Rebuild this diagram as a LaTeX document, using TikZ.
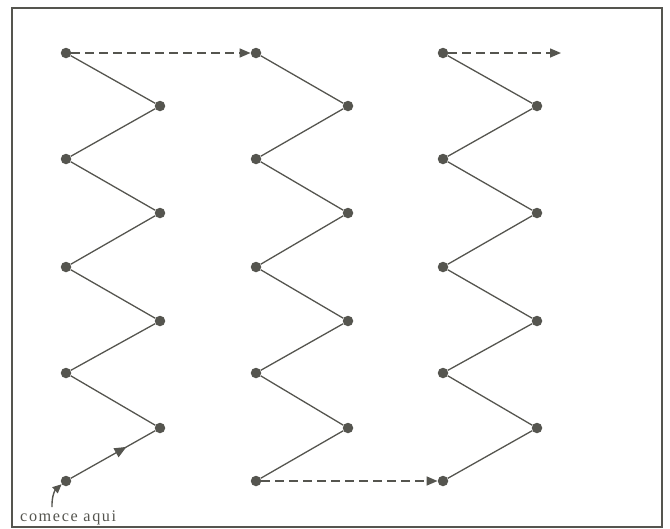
\documentclass[tikz,border=0pt]{standalone}
\usepackage{fontspec}
\setmainfont{Liberation Serif}
\newfontfamily\spaced[LetterSpace=10]{Liberation Serif}
\usetikzlibrary{arrows.meta,decorations.markings}
\definecolor{ink}{HTML}{55554F}
\begin{document}
\begin{tikzpicture}[x=1pt,y=-1pt,
  dot/.style={circle,fill=ink,inner sep=0pt,minimum size=10.5pt},
  zig/.style={draw=ink,line width=1.3pt},
  dasharrow/.style={draw=ink,line width=1.5pt,dash pattern=on 9pt off 5pt,-{Triangle[length=11pt,width=9pt]}},
  midarrow/.style={postaction={decorate},decoration={markings,mark=at position 0.66 with {\arrow{Triangle[length=12pt,width=10pt]}}}},
  lbl/.style={text=ink,font=\spaced\fontsize{16.2}{18}\selectfont,inner sep=0pt,anchor=base west}]
\useasboundingbox (0,0) rectangle (670,528);
\draw[ink,line width=2pt] (12,8) rectangle (662,527);
% columns
\foreach \c/\xl/\xr in {a/66/160,b/256/348,c/443/537}{
  \foreach \i/\y in {1/53,3/159,5/267,7/373,9/481}{
    \node[dot] (\c\i) at (\xl,\y) {};
  }
  \foreach \i/\y in {2/106,4/213,6/321,8/428}{
    \node[dot] (\c\i) at (\xr,\y) {};
  }
}
\foreach \c in {a,b,c}{
  \foreach \i [evaluate=\i as \j using int(\i+1)] in {1,...,7}{
    \draw[zig] (\c\i) -- (\c\j);
  }
}
\draw[zig] (b8) -- (b9);
\draw[zig] (c8) -- (c9);
\draw[zig,midarrow,ink] (a9) -- (a8);
% dashed transfers
\draw[dasharrow] (a1) -- (b1);
\draw[dasharrow] (b9) -- (c9);
\coordinate (cend) at (561,53);
\draw[dasharrow] (c1) -- (cend);
% label
\node[lbl] (start) at (20,521) {comece aqui};
\coordinate (s0) at (52,507);
\draw[ink,line width=1.4pt,-{Triangle[length=9pt,width=8pt]}] (s0) to[bend left=25] (a9);
\end{tikzpicture}
\end{document}
